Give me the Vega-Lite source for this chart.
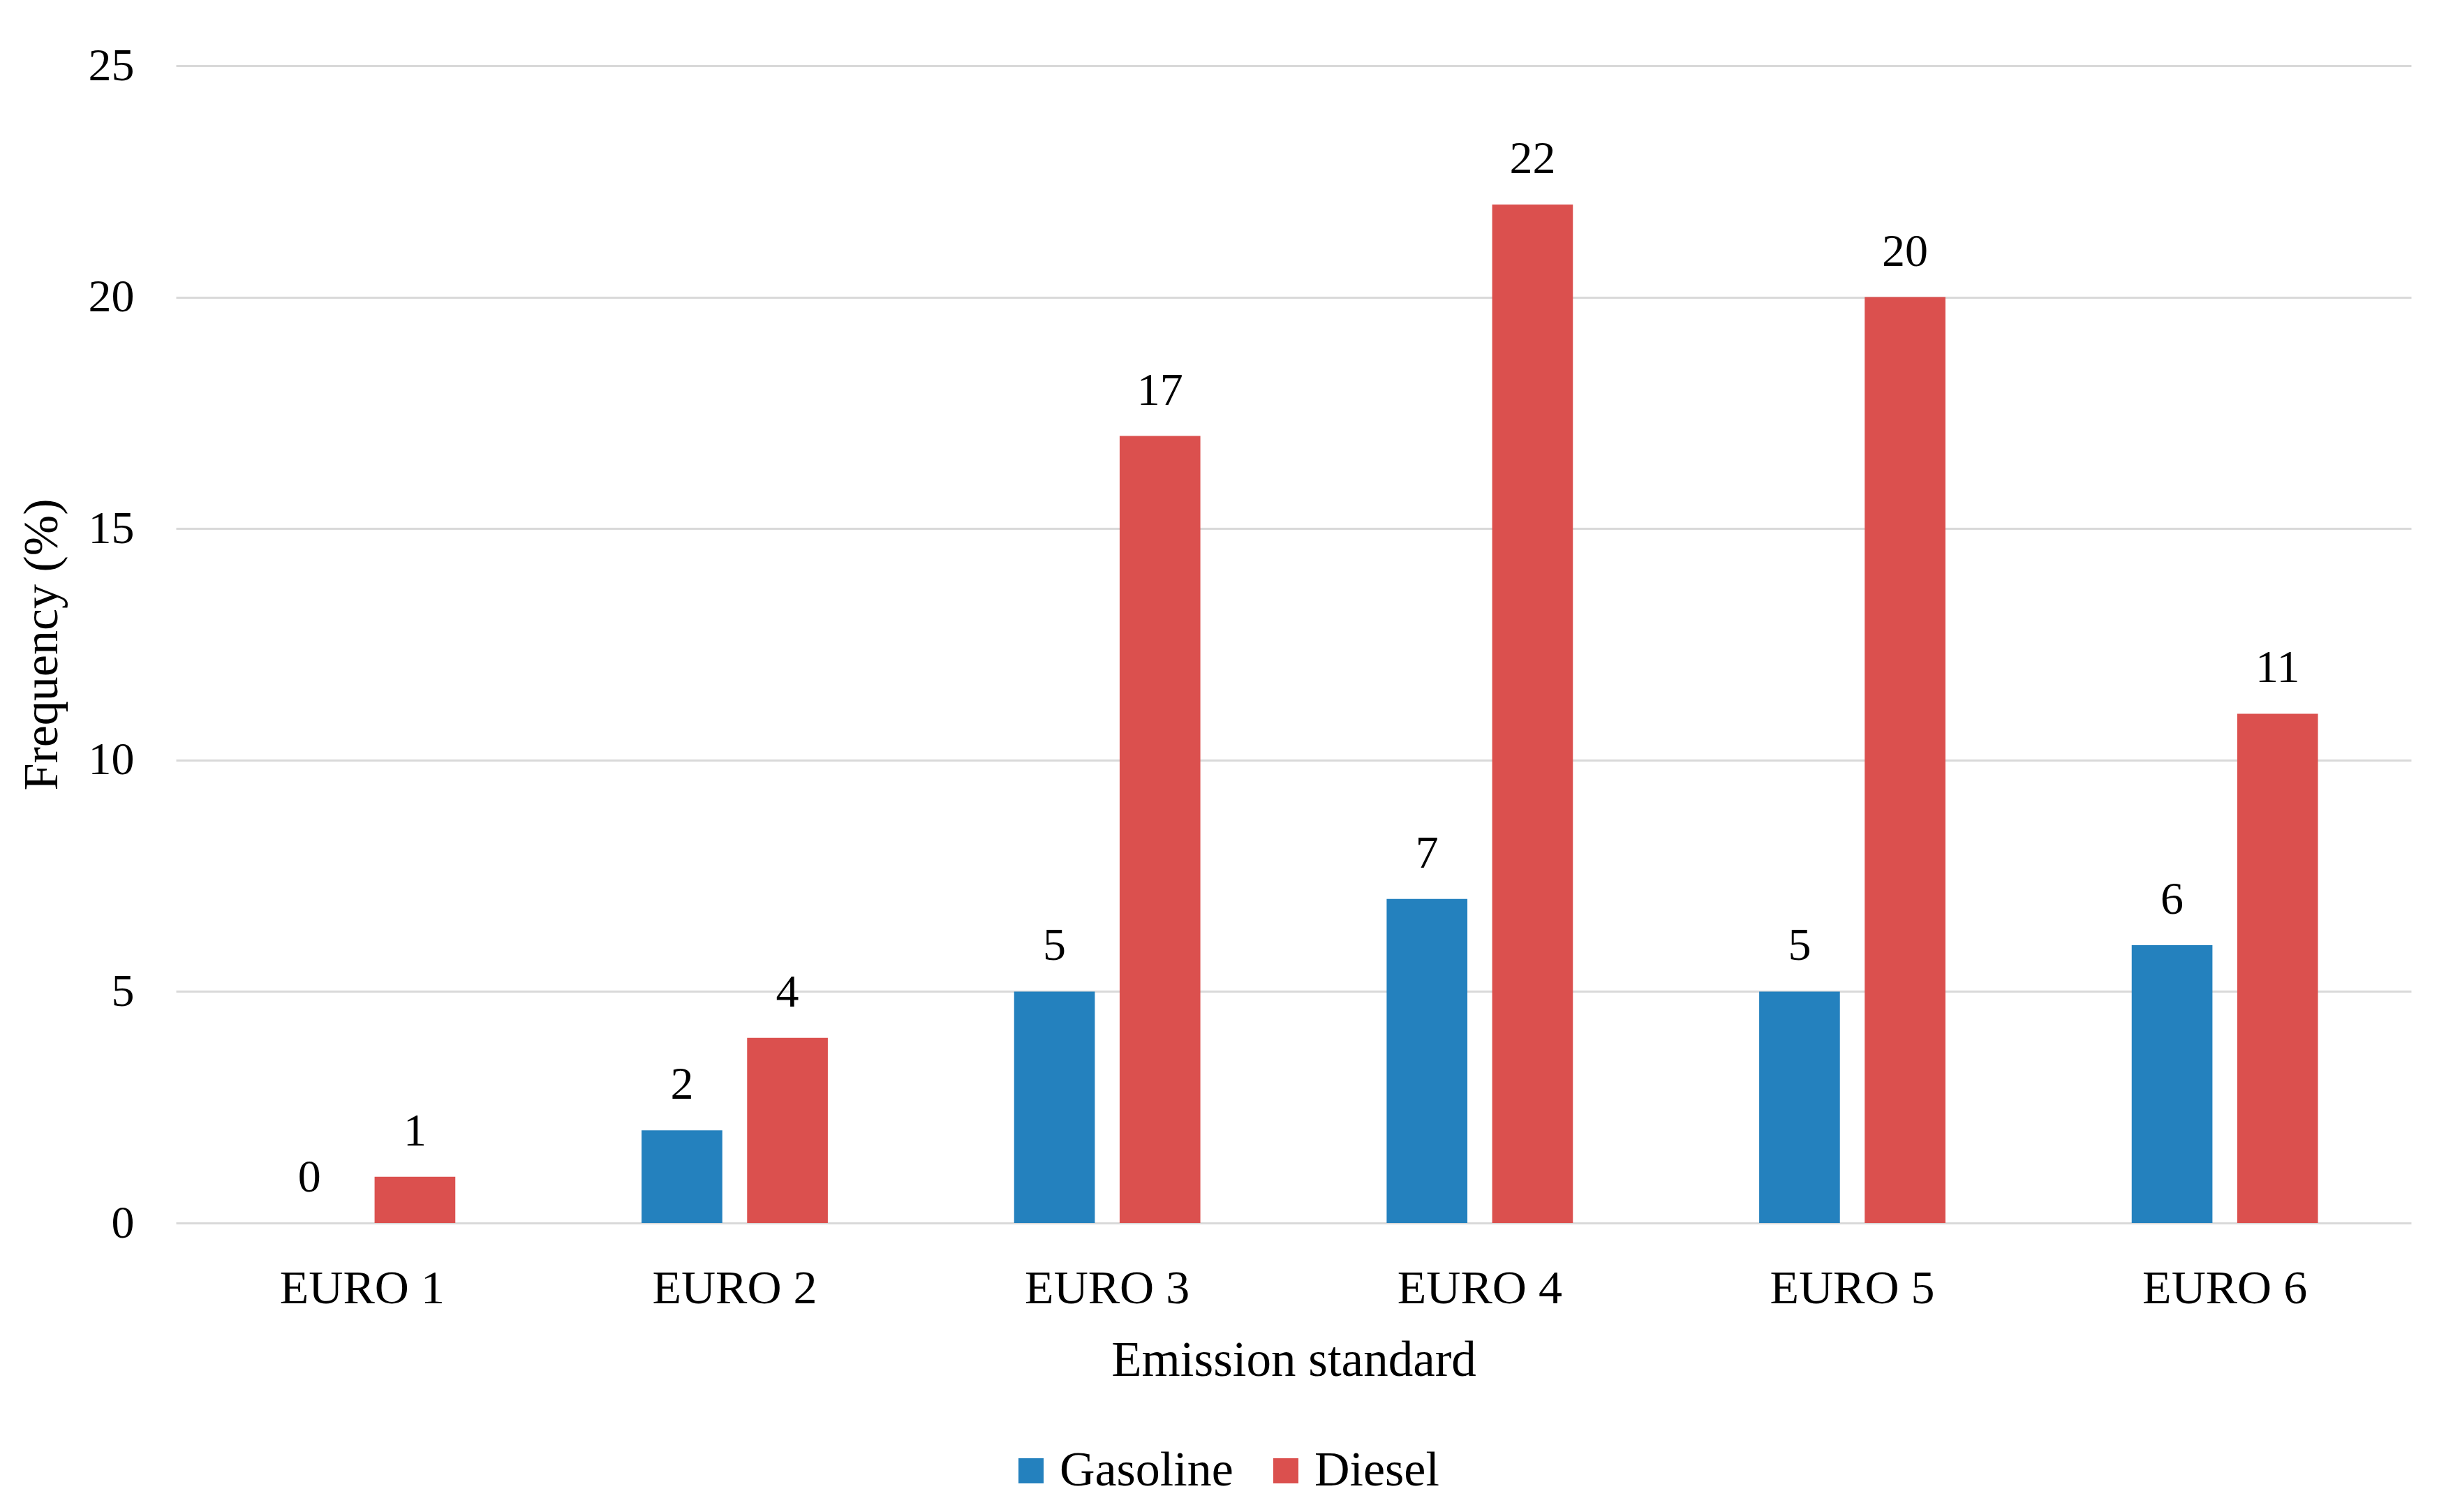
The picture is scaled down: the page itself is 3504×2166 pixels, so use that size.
{
  "$schema": "https://vega.github.io/schema/vega-lite/v6.json",
  "width": 3202,
  "height": 1658,
  "autosize": {"type": "none"},
  "padding": {"left": 252, "top": 94, "right": 50, "bottom": 414},
  "background": "white",
  "config": {
    "view": {"stroke": null},
    "font": "Liberation Serif",
    "axis": {"labelFont": "Liberation Serif", "titleFont": "Liberation Serif", "labelColor": "#000000", "titleColor": "#000000", "titleFontWeight": "normal", "labelLimit": 0},
    "legend": {"labelFont": "Liberation Serif", "labelLimit": 0}
  },
  "data": {
    "values": [
      {"standard": "EURO 1", "fuel": "Gasoline", "frequency": 0},
      {"standard": "EURO 1", "fuel": "Diesel", "frequency": 1},
      {"standard": "EURO 2", "fuel": "Gasoline", "frequency": 2},
      {"standard": "EURO 2", "fuel": "Diesel", "frequency": 4},
      {"standard": "EURO 3", "fuel": "Gasoline", "frequency": 5},
      {"standard": "EURO 3", "fuel": "Diesel", "frequency": 17},
      {"standard": "EURO 4", "fuel": "Gasoline", "frequency": 7},
      {"standard": "EURO 4", "fuel": "Diesel", "frequency": 22},
      {"standard": "EURO 5", "fuel": "Gasoline", "frequency": 5},
      {"standard": "EURO 5", "fuel": "Diesel", "frequency": 20},
      {"standard": "EURO 6", "fuel": "Gasoline", "frequency": 6},
      {"standard": "EURO 6", "fuel": "Diesel", "frequency": 11}
    ]
  },
  "encoding": {
    "x": {
      "field": "standard",
      "type": "nominal",
      "sort": ["EURO 1", "EURO 2", "EURO 3", "EURO 4", "EURO 5", "EURO 6"],
      "scale": {"paddingInner": 0.5, "paddingOuter": 0.25},
      "axis": {
        "title": "Emission standard",
        "labelAngle": 0,
        "labelFontSize": 68,
        "titleFontSize": 71,
        "labelPadding": 60,
        "titlePadding": 34,
        "domain": false,
        "ticks": false
      }
    },
    "xOffset": {
      "field": "fuel",
      "type": "nominal",
      "sort": ["Gasoline", "Diesel"],
      "scale": {"paddingInner": 0.235, "paddingOuter": 0}
    },
    "y": {
      "field": "frequency",
      "type": "quantitative",
      "scale": {"domain": [0, 25], "nice": false},
      "axis": {
        "title": "Frequency (%)",
        "values": [0, 5, 10, 15, 20, 25],
        "labelFontSize": 66,
        "titleFontSize": 70,
        "labelPadding": 60,
        "titlePadding": 30,
        "domain": false,
        "ticks": false,
        "grid": true,
        "gridColor": "#D9D9D9",
        "gridWidth": 3
      }
    }
  },
  "layer": [
    {
      "mark": {"type": "bar"},
      "encoding": {
        "color": {
          "field": "fuel",
          "type": "nominal",
          "sort": ["Gasoline", "Diesel"],
          "scale": {"domain": ["Gasoline", "Diesel"], "range": ["#2481BE", "#DB504E"]},
          "legend": {
            "title": null,
            "orient": "none",
            "direction": "horizontal",
            "legendX": 1190,
            "legendY": 1978,
            "symbolType": "square",
            "symbolSize": 1300,
            "symbolStrokeWidth": 0,
            "labelFontSize": 70,
            "labelColor": "#000000",
            "labelOffset": 6,
            "columnPadding": 40
          }
        }
      }
    },
    {
      "mark": {"type": "text", "baseline": "alphabetic", "dy": -45, "fontSize": 66, "color": "#000000", "font": "Liberation Serif"},
      "encoding": {
        "text": {"field": "frequency", "type": "quantitative"}
      }
    }
  ]
}
